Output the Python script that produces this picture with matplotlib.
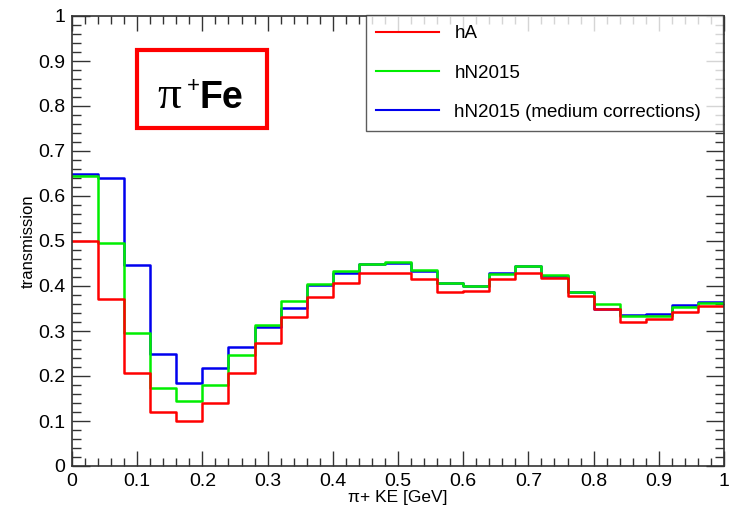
import numpy as np
import matplotlib
matplotlib.use("Agg")
import matplotlib.pyplot as plt
from matplotlib.patches import Rectangle
from matplotlib.ticker import MultipleLocator

plt.rcParams['font.family'] = ['Liberation Sans', 'DejaVu Sans']

bin_edges = np.round(np.arange(0, 1.0001, 0.04), 4)

hA = [0.500, 0.372, 0.206, 0.119, 0.101, 0.141, 0.206, 0.274, 0.332, 0.376,
      0.407, 0.430, 0.430, 0.416, 0.386, 0.390, 0.416, 0.428, 0.417, 0.378,
      0.349, 0.321, 0.326, 0.343, 0.356]
hN2015 = [0.645, 0.495, 0.296, 0.174, 0.145, 0.181, 0.247, 0.313, 0.367, 0.404,
          0.434, 0.449, 0.454, 0.436, 0.407, 0.401, 0.427, 0.445, 0.424, 0.387,
          0.361, 0.333, 0.333, 0.354, 0.362]
hN2015_med = [0.649, 0.641, 0.447, 0.249, 0.185, 0.217, 0.265, 0.308, 0.352, 0.403,
              0.430, 0.448, 0.452, 0.434, 0.407, 0.401, 0.430, 0.444, 0.423, 0.387,
              0.350, 0.336, 0.338, 0.357, 0.364]

labels = ["hA", "hN2015", "hN2015 (medium corrections)"]
colors = ["#ff0000", "#00ee00", "#0000ee"]

W, H = 736, 508
fig = plt.figure(figsize=(W / 100, H / 100), dpi=100)
ax = fig.add_axes([72 / W, 1 - 466 / H, (724 - 72) / W, (466 - 16) / H])

series = [hA, hN2015, hN2015_med]
handles = [None] * 3
for i in [2, 1, 0]:
    h, = ax.step(bin_edges, list(series[i]) + [series[i][-1]], where='post',
                 color=colors[i], lw=1.8, label=labels[i])
    handles[i] = h

ax.set_xlim(0, 1)
ax.set_ylim(0, 1)
ax.xaxis.set_major_locator(MultipleLocator(0.1))
ax.xaxis.set_minor_locator(MultipleLocator(0.02))
ax.yaxis.set_major_locator(MultipleLocator(0.1))
ax.yaxis.set_minor_locator(MultipleLocator(0.02))

def fmt(v, pos):
    s = f"{v:.1f}"
    if s == "0.0":
        return "0"
    if s == "1.0":
        return "1"
    return s

ax.xaxis.set_major_formatter(plt.FuncFormatter(fmt))
ax.yaxis.set_major_formatter(plt.FuncFormatter(fmt))

ax.tick_params(axis='x', which='major', direction='in', length=11, width=1, top=True, bottom=True,
               labelsize=14, pad=5, color='#333333')
ax.tick_params(axis='x', which='minor', direction='in', length=5.5, width=1, top=True, bottom=True,
               color='#333333')
ax.tick_params(axis='y', which='major', direction='in', length=13, width=1, left=True, right=True,
               labelsize=14, pad=5, color='#333333')
ax.tick_params(axis='y', which='minor', direction='in', length=6.5, width=1, left=True, right=True,
               color='#333333')
for sp in ax.spines.values():
    sp.set_linewidth(1.2)
    sp.set_color('#333333')

ax.set_xlabel("π+ KE [GeV]", fontsize=12.5, labelpad=0)
ax.set_ylabel("transmission", fontsize=12, labelpad=1.5)

leg = fig.legend(handles=handles, labels=labels, loc='upper left',
                 bbox_to_anchor=(366 / W, 1 - 129 / H, 357 / W, 114 / H), mode='expand',
                 fontsize=13.5, frameon=True, fancybox=False, borderpad=0.55,
                 labelspacing=1.17, handlelength=3.36, handletextpad=0.8,
                 borderaxespad=0)
leg.get_frame().set_edgecolor('#333333')
leg.get_frame().set_linewidth(1.0)
for lh in leg.get_lines():
    lh.set_linewidth(1.5)

# title box
rect = Rectangle((137 / W, 1 - 128 / H), (267 - 137) / W, (128 - 50) / H,
                 transform=fig.transFigure, fill=True, facecolor='white',
                 edgecolor='#ff0000', lw=3, zorder=5)
fig.patches.append(rect)
fig.text(157 / W, 1 - 108 / H, "π", fontsize=34, family=['Liberation Serif', 'DejaVu Serif'],
         va='baseline', ha='left', zorder=6)
fig.text(187 / W, 1 - 92 / H, "+", fontsize=16, va='baseline', ha='left', zorder=6)
fig.text(200 / W, 1 - 108 / H, "Fe", fontsize=27, fontweight='bold',
         va='baseline', ha='left', zorder=6)

fig.savefig("out.png", dpi=100)
